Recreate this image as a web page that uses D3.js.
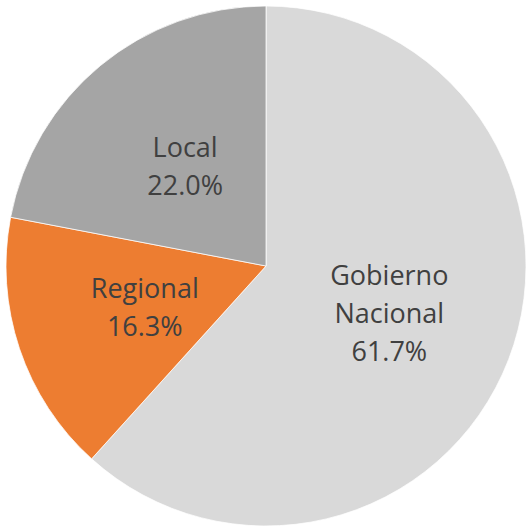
<!DOCTYPE html>
<html>
<head>
<meta charset="utf-8">
<script src="https://cdn.jsdelivr.net/npm/d3@7"></script>
<style>
  body { margin: 0; background: #fff; }
  svg { display: block; }
</style>
</head>
<body>
<div id="chart"></div>
<script>
// data
const categories = ["Gobierno Nacional", "Regional", "Local"];
const values = [61.7, 16.3, 22.0];
const labelLines = [["Gobierno", "Nacional", "61.7%"], ["Regional", "16.3%"], ["Local", "22.0%"]];
const colors = ["#d9d9d9", "#ed7d31", "#a5a5a5"];

const width = 529, height = 529;
const cx = 266, cy = 266, radius = 260;

const svg = d3.select("#chart").append("svg")
    .attr("width", width)
    .attr("height", height);

const g = svg.append("g")
    .attr("transform", "translate(" + cx + "," + cy + ")");

const pie = d3.pie().sort(null).value(d => d);
const arcs = pie(values);

const arc = d3.arc().innerRadius(0).outerRadius(radius);
const labelArc = d3.arc().innerRadius(radius * 0.5).outerRadius(radius * 0.5);

g.selectAll("path.slice")
    .data(arcs)
    .enter().append("path")
    .attr("class", "slice")
    .attr("d", arc)
    .attr("fill", (d, i) => colors[i])
    .attr("stroke", "#fff")
    .attr("stroke-width", 0.75);

// labels, one tspan per line
const lineH = 38;
arcs.forEach((d, i) => {
    const c = labelArc.centroid(d);
    const lines = labelLines[i];
    const t = g.append("text")
        .attr("text-anchor", "middle")
        .attr("fill", "#404040")
        .style("font-family", "'Open Sans', sans-serif")
        .style("font-size", "27px");
    lines.forEach((s, j) => {
        t.append("tspan")
            .attr("x", c[0] + 2)
            .attr("y", c[1] + (j - (lines.length - 1) / 2) * lineH + 10)
            .text(s);
    });
});
</script>
</body>
</html>
